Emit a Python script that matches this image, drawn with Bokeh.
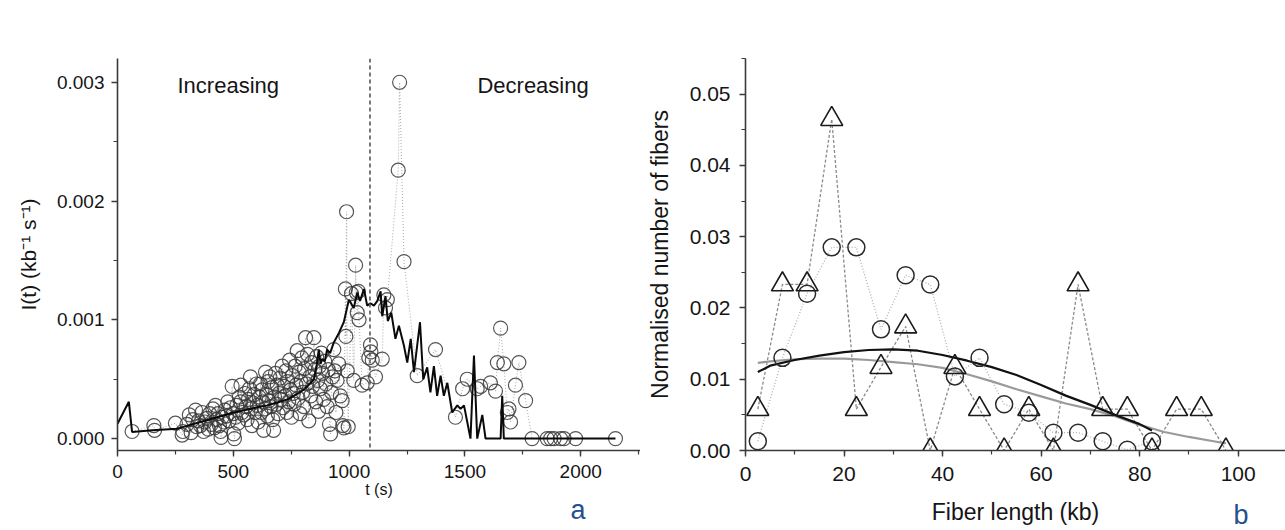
from bokeh.plotting import figure
from bokeh.layouts import row
from bokeh.models import Range1d, SingleIntervalTicker, PrintfTickFormatter, Span, Label, Title
from bokeh.embed import file_html
from bokeh.resources import INLINE

# ---------------- panel a data ----------------
pts_t = [63, 157, 160, 250, 279, 282, 300, 310, 318, 325, 337, 342, 350, 358, 365, 372, 378, 387, 392, 398,
         405, 412, 418, 423, 428, 434, 440, 445, 447, 452, 459, 464, 470, 476, 482, 488, 495, 499, 502, 505,
         510, 515, 520, 526, 531, 533, 538, 545, 550, 555, 560, 565, 570, 574, 576, 580, 585, 590, 595, 600,
         603, 607, 612, 617, 620, 624, 628, 631, 636, 639, 643, 647, 650, 654, 658, 662, 666, 670, 674, 678, 682, 686, 690, 694, 698,
         702, 706, 711, 715, 719, 723, 727, 731, 735, 739, 743, 747, 751, 755, 759, 763, 767, 771, 776, 780, 784, 788, 792, 796, 800,
         804, 808, 812, 816, 820, 826, 830, 834, 838, 842, 848, 852, 856, 860, 864, 868, 872, 876, 880, 885, 890, 895, 900,
         905, 910, 915, 920, 924, 928, 934, 938, 943, 948, 955, 962, 970, 973, 978, 984, 986, 989, 992, 996,
         1010, 1020, 1028, 1031, 1035, 1040, 1043, 1056, 1078, 1085, 1092, 1094, 1100, 1114,
         1143, 1150, 1157, 1165, 1212, 1218, 1237, 1294, 1373,
         1459, 1490, 1510, 1553, 1568, 1610, 1632, 1640, 1654, 1668, 1683, 1690, 1697, 1718, 1733, 1762, 1790, 1855, 1870, 1885, 1913, 1928, 1978, 2150]
pts_I = [0.00006, 0.00011, 0.00007, 0.00013, 0.00003, 0.00006, 0.00012, 0.0002, 0.00005, 0.00016, 0.00024, 0.0001, 0.00015, 0.00011, 0.00022, 0.00006, 0.00014, 0.00017, 0.00008, 0.00021,
         0.00012, 0.00025, 0.00009, 0.00028, 0.00016, 0.00021, 0.00011, 0.00006, 0.00001, 0.00018, 0.00014, 0.00024, 0.00019, 0.00031, 0.00015, 0.00026, 0.00044, 0.00021, 0.00004, 0.0,
         0.00018, 0.00028, 0.00013, 0.00035, 0.00031, 0.00045, 0.00022, 0.0002, 0.00038, 0.00027, 0.00016, 0.00033, 0.00042, 0.00052, 0.00025, 0.00011, 0.0003, 0.00037, 0.00022, 0.00046,
         0.00028, 0.00014, 0.00035, 0.00046, 0.00022, 0.00041, 0.00031, 0.00007, 0.00025, 0.00056, 0.00037, 0.00019, 0.00048, 0.00032, 0.00052, 0.00027, 0.00043, 0.00016, 0.00007, 0.00035, 0.00055, 0.00029, 0.00045, 0.00021, 0.00038,
         0.00051, 0.00033, 0.00061, 0.00026, 0.00044, 0.00036, 0.00057, 0.00022, 0.00048, 0.00031, 0.00066, 0.00041, 0.00018, 0.00053, 0.00038, 0.00029, 0.00061, 0.00045, 0.00074, 0.00034, 0.00056, 0.00021, 0.00048, 0.00068, 0.00039,
         0.00027, 0.00059, 0.00085, 0.00046, 0.00071, 0.00015, 0.00052, 0.00036, 0.00064, 0.00044, 0.00085, 0.00058, 0.00031, 0.00069, 0.00049, 0.00023, 0.00061, 0.00042, 0.00072, 0.00055, 0.00033, 0.00065, 0.00046,
         0.00027, 0.00058, 0.00012, 0.00004, 0.00039, 0.00052, 0.00075, 0.00057, 0.00022, 0.00049, 0.00063, 0.00036, 0.00032, 0.00011, 0.00009, 0.00126, 0.00086, 0.00191, 0.00057, 0.0001,
         0.00122, 0.00049, 0.00146, 0.00123, 0.00106, 0.00124, 0.001, 0.00045, 0.00047, 0.00068, 0.00079, 0.00073, 0.00066, 0.00052,
         0.00067, 0.00121, 0.0011, 0.00117, 0.00226, 0.003, 0.00149, 0.00053, 0.00075,
         0.00018, 0.00042, 0.0005, 0.00042, 0.00044, 0.00047, 0.0004, 0.00064, 0.00093, 0.00063, 0.00022, 0.00025, 0.00014, 0.00045, 0.00064, 0.00032, 0.0, 0.0, 0.0, 0.0, 0.0, 0.0, 0.0, 0.0]

avg_t = [0, 49, 63, 150, 258, 358, 430, 502, 570, 646, 700, 733, 780, 810, 848, 860, 869, 877, 884, 895,
         905, 918, 934, 956, 977, 999, 1020, 1035, 1047, 1064, 1078, 1092, 1107, 1122, 1136, 1143, 1157, 1167, 1182, 1200,
         1215, 1237, 1251, 1266, 1280, 1306, 1320, 1337, 1351, 1366, 1380, 1395, 1409, 1424, 1445, 1467, 1481, 1496, 1510, 1524,
         1539, 1553, 1575, 1589, 1654, 1661, 1668, 2150]
avg_I = [0.000125, 0.00031, 0.000056, 0.00007, 0.000084, 0.00014, 0.00018, 0.00022, 0.00025, 0.00028, 0.00031, 0.00033, 0.00038, 0.00042, 0.0005, 0.00062, 0.00075, 0.00063, 0.00067, 0.00065,
         0.00075, 0.00072, 0.00081, 0.00089, 0.00098, 0.00117, 0.0011, 0.00123, 0.00116, 0.00126, 0.00112, 0.00114, 0.00112, 0.00116, 0.00124, 0.00103, 0.0012, 0.00099, 0.00106, 0.00084,
         0.00095, 0.00078, 0.00064, 0.00084, 0.00056, 0.00098, 0.0005, 0.0006, 0.00039, 0.00061, 0.00036, 0.00053, 0.00036, 0.00047, 0.00022, 0.00028, 0.00025, 0.00028, 0.00014, 0.0,
         0.0007, 0.0, 0.0002, 0.0, 0.0, 0.00036, 0.0, 0.0]

split_t = 1090

# ---------------- panel b data ----------------
circ_x = [2.5, 7.5, 12.5, 17.5, 22.5, 27.5, 32.5, 37.5, 42.5, 47.5, 52.5, 57.5, 62.5, 67.5, 72.5, 77.5, 82.5]
circ_y = [0.0013, 0.013, 0.022, 0.0285, 0.0285, 0.017, 0.0246, 0.0233, 0.0104, 0.013, 0.0065, 0.0053, 0.0025, 0.0025, 0.0013, 0.0001, 0.0013]
tri_x = [2.5, 7.5, 12.5, 17.5, 22.5, 27.5, 32.5, 37.5, 42.5, 47.5, 52.5, 57.5, 62.5, 67.5, 72.5, 77.5, 82.5, 87.5, 92.5, 97.5]
tri_y = [0.0058, 0.0233, 0.0233, 0.0465, 0.0058, 0.0117, 0.0174, 0.0, 0.0117, 0.0058, 0.0, 0.0058, 0.0, 0.0233, 0.0058, 0.0058, 0.0, 0.0058, 0.0058, 0.0]
fitk_x = [2.5, 5, 10, 15, 20, 25, 30, 35, 40, 45, 50, 55, 60, 65, 70, 75, 80, 82.5]
fitk_y = [0.011, 0.0119, 0.0127, 0.0133, 0.0138, 0.0141, 0.0142, 0.0140, 0.0134, 0.0126, 0.0117, 0.0106, 0.0092, 0.0077, 0.0064, 0.0050, 0.0037, 0.0028]
fitg_x = [2.5, 5, 10, 15, 20, 25, 30, 35, 40, 45, 50, 55, 60, 65, 70, 75, 80, 85, 90, 95, 97.5]
fitg_y = [0.0123, 0.0125, 0.0128, 0.0129, 0.0129, 0.0127, 0.0124, 0.0121, 0.0116, 0.0107, 0.0097, 0.0086, 0.0076, 0.0066, 0.0058, 0.0048, 0.0036, 0.0026, 0.0019, 0.0013, 0.0010]

FONT = "Liberation Sans"
TXT = "#151515"
AX = "#3a3a3a"
PANEL_LETTER = "#24508f"


def style_axis(ax, label_size, tick_size, label_standoff, tick_standoff):
    ax.axis_line_color = AX
    ax.axis_line_width = 1.6
    ax.major_tick_line_color = AX
    ax.minor_tick_line_color = AX
    ax.major_tick_line_width = 1.4
    ax.minor_tick_line_width = 1.2
    ax.major_tick_out = 6
    ax.major_tick_in = 0
    ax.minor_tick_out = 4
    ax.minor_tick_in = 0
    ax.major_label_text_font = FONT
    ax.major_label_text_font_size = tick_size
    ax.major_label_text_color = TXT
    ax.major_label_standoff = tick_standoff
    ax.axis_label_text_font = FONT
    ax.axis_label_text_font_size = label_size
    ax.axis_label_text_font_style = "normal"
    ax.axis_label_text_color = TXT
    ax.axis_label_standoff = label_standoff


# ---------------- panel a ----------------
p1 = figure(width=640, height=530, output_backend="svg", toolbar_location=None,
            x_range=Range1d(0, 2258), y_range=Range1d(-0.0001, 0.0032),
            min_border_left=117, min_border_right=0, min_border_top=58, min_border_bottom=78)
p1.grid.visible = False
p1.outline_line_color = None

p1.xaxis.ticker = SingleIntervalTicker(interval=500, num_minor_ticks=2)
p1.yaxis.ticker = SingleIntervalTicker(interval=0.001, num_minor_ticks=2)
p1.yaxis.formatter = PrintfTickFormatter(format="%.3f")
p1.xaxis.axis_label = "t (s)"
p1.yaxis.axis_label = "I(t) (kb\u207b\u00b9 s\u207b\u00b9)"
style_axis(p1.xaxis[0], "16px", "19px", 0, 8)
style_axis(p1.yaxis[0], "21px", "19px", 14, 7)

p1.line(pts_t, pts_I, line_color="#b0b0b0", line_width=1.1, line_dash="1 2")
p1.scatter(pts_t, pts_I, marker="circle", size=14, fill_color=None,
           line_color="#383838", line_width=1.2, line_alpha=0.85)
p1.line(avg_t, avg_I, line_color="#0a0a0a", line_width=2)
p1.add_layout(Span(location=split_t, dimension="height", line_color="#555555",
                   line_dash="4 3", line_width=1.6))
for tx, tt in [(259, "Increasing"), (1554, "Decreasing")]:
    p1.add_layout(Label(x=tx, y=0.00297, text=tt, text_font=FONT, text_font_size="22px",
                        text_color=TXT, text_baseline="middle", text_align="left"))
p1.add_layout(Title(text="a", align="left", offset=453, standoff=-16, text_font=FONT,
                    text_font_size="27px", text_font_style="normal",
                    text_color=PANEL_LETTER), "below")

# ---------------- panel b ----------------
p2 = figure(width=645, height=530, output_backend="svg", toolbar_location=None,
            x_range=Range1d(0, 109.6), y_range=Range1d(0, 0.055),
            min_border_left=105, min_border_right=0, min_border_top=10, min_border_bottom=80)
p2.grid.visible = False
p2.outline_line_color = None
p2.xaxis.ticker = SingleIntervalTicker(interval=20, num_minor_ticks=2)
p2.yaxis.ticker = SingleIntervalTicker(interval=0.01, num_minor_ticks=2)
p2.yaxis.formatter = PrintfTickFormatter(format="%.2f")
p2.xaxis.axis_label = "Fiber length (kb)"
p2.yaxis.axis_label = "Normalised number of fibers"
style_axis(p2.xaxis[0], "23px", "21px", 15, 10)
style_axis(p2.yaxis[0], "23px", "21px", 14, 9)

p2.line(tri_x, tri_y, line_color="#8a8a8a", line_width=1.3, line_dash="3 2")
p2.line(circ_x, circ_y, line_color="#b0b0b0", line_width=1.3, line_dash="1 2")
p2.line(fitg_x, fitg_y, line_color="#9a9a9a", line_width=2.2)
p2.line(fitk_x, fitk_y, line_color="#111111", line_width=2.2)
p2.scatter(circ_x, circ_y, marker="circle", size=17, fill_color=None,
           line_color="#2a2a2a", line_width=1.5)
p2.scatter(tri_x, tri_y, marker="triangle", size=22, fill_color=None,
           line_color="#1a1a1a", line_width=1.6)
p2.add_layout(Title(text="b", align="left", offset=488, standoff=-55, vertical_align="top",
                    text_font=FONT, text_font_size="27px", text_font_style="normal",
                    text_color=PANEL_LETTER), "below")

layout = row(p1, p2)
open("out.html", "w").write(file_html(layout, INLINE))
